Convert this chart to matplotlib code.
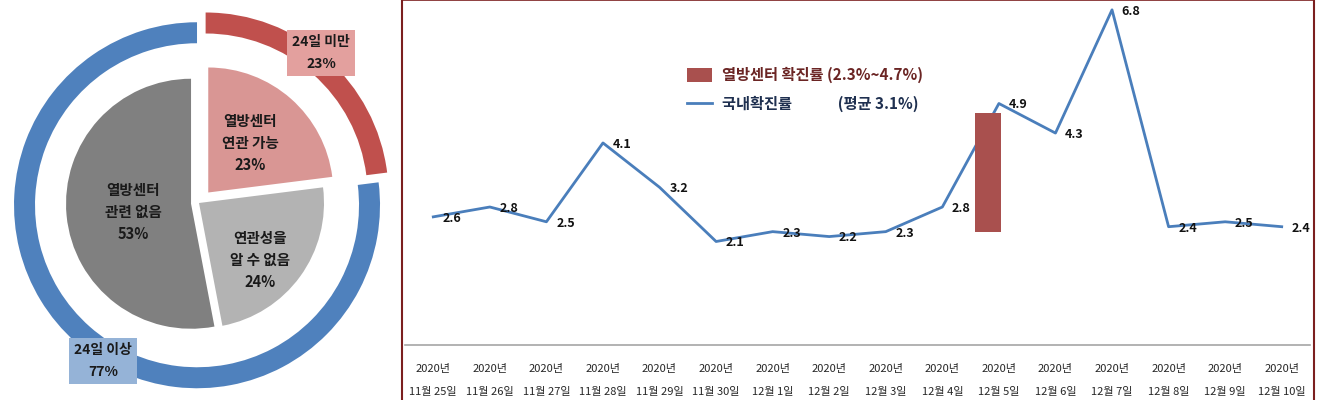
import matplotlib
matplotlib.use('Agg')
import matplotlib.pyplot as plt
from matplotlib.lines import Line2D
from matplotlib.patches import Patch

plt.rcParams['font.family'] = ['Noto Sans CJK KR', 'DejaVu Sans']

# --- data ---------------------------------------------------------------
ring_labels = ['24일 미만', '24일 이상']
ring_values = [23, 77]

inner_labels = ['열방센터\n연관 가능', '연관성을\n알 수 없음', '열방센터\n관련 없음']
inner_values = [23, 24, 53]

dates = ['11월 25일', '11월 26일', '11월 27일', '11월 28일', '11월 29일', '11월 30일',
         '12월 1일', '12월 2일', '12월 3일', '12월 4일', '12월 5일', '12월 6일',
         '12월 7일', '12월 8일', '12월 9일', '12월 10일']
national_rate = [2.6, 2.8, 2.5, 4.1, 3.2, 2.1, 2.3, 2.2, 2.3, 2.8, 4.9, 4.3, 6.8, 2.4, 2.5, 2.4]
center_rate_low = 2.3
center_rate_high = 4.7
national_avg = 3.1

# --- styling ------------------------------------------------------------
RED = '#C0504D'
BLUE = '#4F81BD'
PINK = '#D99694'
LIGHT_GRAY = '#B3B3B3'
DARK_GRAY = '#808080'
LINE_BLUE = '#4A7EBB'
BAR_RED = '#A9504E'
FRAME = '#7B1F1F'

W, H = 1317, 400
fig = plt.figure(figsize=(W / 100, H / 100), dpi=100)
fig.patch.set_facecolor('white')

# --- left: donut + pie ---------------------------------------------------
ax1 = fig.add_axes([0, 0, 400 / W, 1])

ax1.pie(ring_values, radius=183, colors=[RED, BLUE], startangle=90,
        counterclock=False, explode=[10, 3],
        wedgeprops=dict(width=21, edgecolor='none'))
ax1.pie(inner_values, radius=125, colors=[PINK, LIGHT_GRAY, DARK_GRAY],
        startangle=90, counterclock=False, explode=[14, 0, 8],
        wedgeprops=dict(edgecolor='none'))

# pie() resets the limits, so set them afterwards
ax1.set_xlim(-199, 201)
ax1.set_ylim(-197, 203)
ax1.set_aspect('equal')
ax1.axis('off')

inner_pos = [(51, 60), (61, -57), (-66, -9)]
for lab, val, (x, y) in zip(inner_labels, inner_values, inner_pos):
    ax1.text(x, y, f'{lab}\n{val}%', ha='center', va='center', fontsize=10.5,
             fontweight='bold', color='#1a1a1a', linespacing=1.45)

box_pos = [(122, 150), (-96, -158)]
box_colors = ['#E3A09E', '#95B3D7']
for lab, val, (x, y), bc in zip(ring_labels, ring_values, box_pos, box_colors):
    ax1.text(x, y, f'{lab}\n{val}%', ha='center', va='center', fontsize=10,
             fontweight='bold', color='#1a1a1a', linespacing=1.7,
             bbox=dict(boxstyle='square,pad=0.4', facecolor=bc, edgecolor='none'))

# --- right: line chart ---------------------------------------------------
ax2 = fig.add_axes([405 / W, 55 / H, 905 / W, 345 / H])
x = list(range(len(dates)))
ax2.plot(x, national_rate, color=LINE_BLUE, lw=2)

bar_x = dates.index('12월 5일') - 0.2
ax2.bar(bar_x, center_rate_high - center_rate_low, bottom=center_rate_low,
        width=0.46, color=BAR_RED, zorder=3)

for xi, v in zip(x, national_rate):
    ax2.annotate(f'{v}', (xi, v), xytext=(7, -1), textcoords='offset points',
                 ha='left', va='center', fontsize=9, fontweight='bold', color='#111111')

ax2.set_xlim(-0.5, len(dates) - 0.5)
ax2.set_ylim(0, 7)
ax2.set_yticks([])
ax2.set_xticks(x)
ax2.set_xticklabels([f'2020년\n{d}' for d in dates], fontsize=8, color='#262626',
                    linespacing=2.55)
ax2.tick_params(axis='x', length=0, pad=14)
for side in ['left', 'right', 'top']:
    ax2.spines[side].set_visible(False)
ax2.spines['bottom'].set_color('#A6A6A6')
ax2.spines['bottom'].set_linewidth(1.2)
ax2.patch.set_alpha(0)

handles = [Patch(facecolor=BAR_RED, edgecolor='none'),
           Line2D([], [], color=LINE_BLUE, lw=2)]
labels = [f'열방센터 확진률 ({center_rate_low}%~{center_rate_high}%)',
          f'국내확진률\u3000\u3000\u3000(평균 {national_avg}%)']
leg = ax2.legend(handles, labels, loc='upper left', bbox_to_anchor=(0.312, 0.806),
                 frameon=False, prop=dict(size=11, weight='bold'),
                 handlelength=1.63, handleheight=1.1, handletextpad=0.65,
                 labelspacing=0.85, borderpad=0, borderaxespad=0)
for t, c in zip(leg.get_texts(), ['#6B2524', '#1F3050']):
    t.set_color(c)

# dark red frame around the line chart
fx0, fx1 = 402 / W, 1314 / W
fig.add_artist(Line2D([fx0, fx0], [0, 1], transform=fig.transFigure, color=FRAME, lw=1.5))
fig.add_artist(Line2D([fx1, fx1], [0, 1], transform=fig.transFigure, color=FRAME, lw=1.5))
fig.add_artist(Line2D([fx0, fx1], [0.999, 0.999], transform=fig.transFigure, color=FRAME, lw=1.2))

fig.savefig('out.png', dpi=100)
